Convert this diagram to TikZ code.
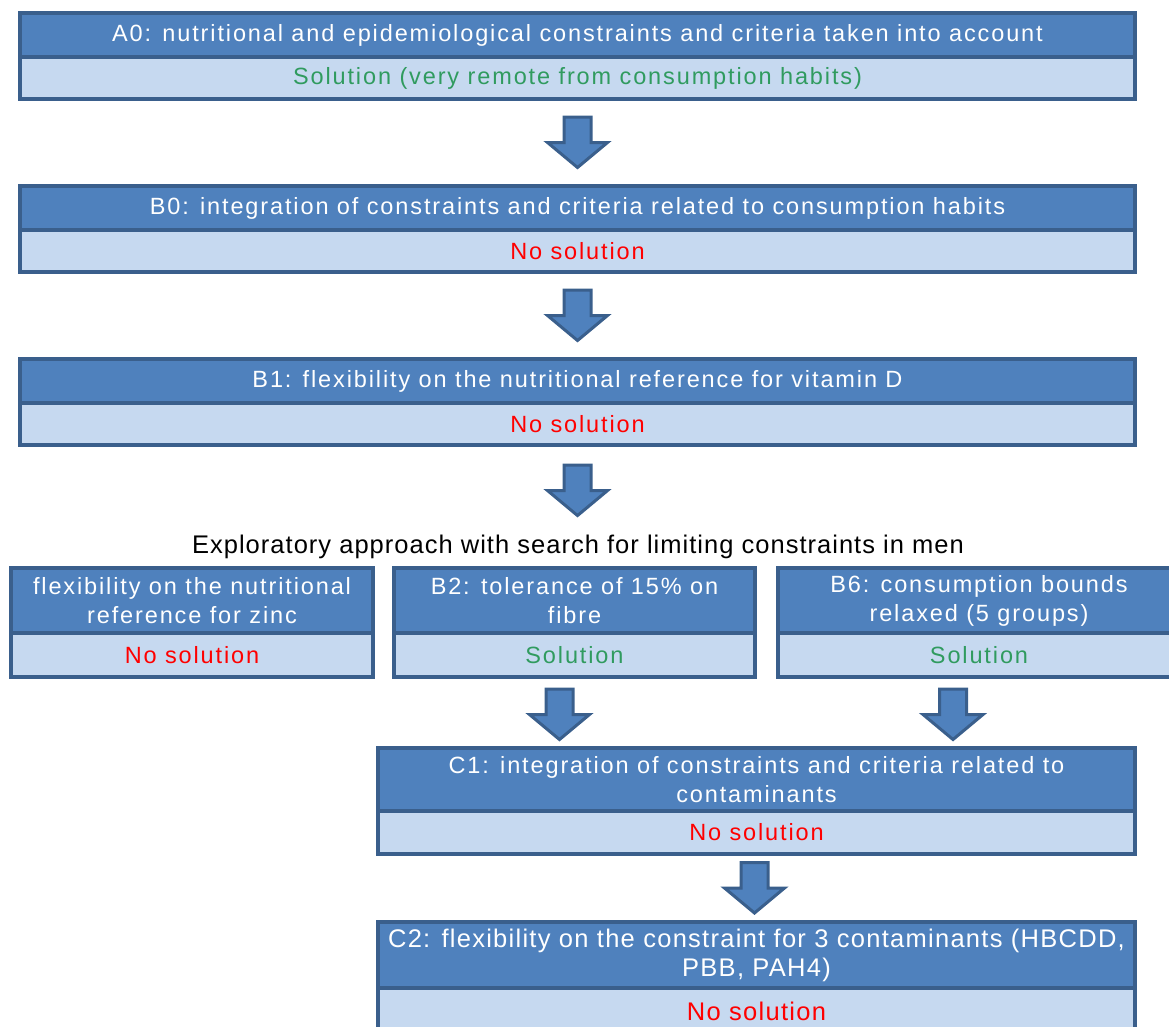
\documentclass[tikz,border=0pt]{standalone}
\usepackage{fontspec}
\setmainfont{Liberation Sans}
\usetikzlibrary{calc}

\definecolor{hdrfill}{HTML}{4F81BD}
\definecolor{edgeblue}{HTML}{3A5F8C}
\definecolor{bodyfill}{HTML}{C6D9F0}
\definecolor{solgreen}{RGB}{48,155,95}
\definecolor{nored}{RGB}{255,0,0}

\tikzset{
  basefont/.style={font=\fontsize{23.5}{29}\selectfont\addfontfeature{LetterSpace=8}},
  tallfont/.style={font=\fontsize{25.5}{29}\selectfont\addfontfeature{LetterSpace=5}},
  hdr/.style={basefont, draw=edgeblue, fill=hdrfill, line width=3.5pt,
    text=white, inner sep=0pt, align=center},
  bdy/.style={basefont, draw=edgeblue, fill=bodyfill, line width=3.5pt,
    inner sep=0pt, align=center},
  blockarrow/.style={draw=edgeblue, fill=hdrfill, line width=3pt, line join=miter},
  pics/downarrow/.style={code={
    \draw[blockarrow] (-13.5,-25.5) -- (13.5,-25.5) -- (13.5,0) -- (30,0)
      -- (0,25) -- (-30,0) -- (-13.5,0) -- cycle;}}
}

% a two-part stage box: [extra style], name, x0, x1, top, split, bottom, header text, result text
\newcommand\stagebox[9][]{%
  \pgfmathsetmacro\sbw{#4-#3}\pgfmathsetmacro\sbcx{(#3+#4)/2}%
  \pgfmathsetmacro\sbhh{#6-#5}\pgfmathsetmacro\sbhy{(#5+#6)/2}%
  \pgfmathsetmacro\sbbh{#7-#6}\pgfmathsetmacro\sbby{(#6+#7)/2}%
  \node[bdy, #1, minimum width=\sbw pt, minimum height=\sbbh pt] (#2b) at (\sbcx,\sbby) {#9};
  \node[hdr, #1, minimum width=\sbw pt, minimum height=\sbhh pt] (#2h) at (\sbcx,\sbhy) {#8};
}
\newcommand\solok[1]{\textcolor{solgreen}{#1}}
\newcommand\solno{\textcolor{nored}{No solution}}

\begin{document}
\begin{tikzpicture}[x=1pt,y=-1pt]
\useasboundingbox (0,0) rectangle (1169,1026);
\clip (0,0) rectangle (1169,1026);

\stagebox{a0}{20}{1135}{13}{57}{99}
  {A0: nutritional and epidemiological constraints and criteria taken into account}
  {\solok{Solution (very remote from consumption habits)}}
\stagebox{b0}{20}{1135}{186}{230}{272}
  {B0: integration of constraints and criteria related to consumption habits}
  {\solno}
\stagebox{b1}{20}{1135}{359}{403}{445}
  {B1: flexibility on the nutritional reference for vitamin D}
  {\solno}

\node[tallfont, anchor=base, inner sep=0pt, font=\fontsize{25.5}{29}\selectfont\addfontfeature{LetterSpace=4}] (expl) at (578,553)
  {Exploratory approach with search for limiting constraints in men};

\stagebox{zn}{11}{373}{568}{633}{677}
  {flexibility on the nutritional\\reference for zinc}
  {\solno}
\stagebox{b2}{394}{755}{568}{633}{677}
  {B2: tolerance of 15\% on\\fibre}
  {\solok{Solution}}
\stagebox{b6}{778}{1180}{568}{633}{677}
  {B6: consumption bounds\\relaxed (5 groups)}
  {\solok{Solution}}

\stagebox{c1}{378}{1135}{748}{811}{854}
  {C1: integration of constraints and criteria related to\\contaminants}
  {\solno}
\stagebox[tallfont]{c2}{378}{1135}{922}{988}{1040}
  {C2: flexibility on the constraint for 3 contaminants (HBCDD,\\PBB, PAH4)}
  {\raisebox{6pt}{\solno}}

% block arrows between the stages
\pic at ($(a0b.south)!0.5!(b0h.north)$) {downarrow};
\pic at ($(b0b.south)!0.5!(b1h.north)$) {downarrow};
\pic at ($(b1b.south)!0.5!(b1b.south|-expl.north)$) {downarrow};
\pic at ($(b2b.south)!0.5!(b2b.south|-c1h.north)+(-15,2)$) {downarrow};
\pic at ($(b6b.south)!0.5!(b6b.south|-c1h.north)+(-26,2)$) {downarrow};
\pic at ($(c1b.south)!0.5!(c2h.north)+(-2,0)$) {downarrow};
\end{tikzpicture}
\end{document}
